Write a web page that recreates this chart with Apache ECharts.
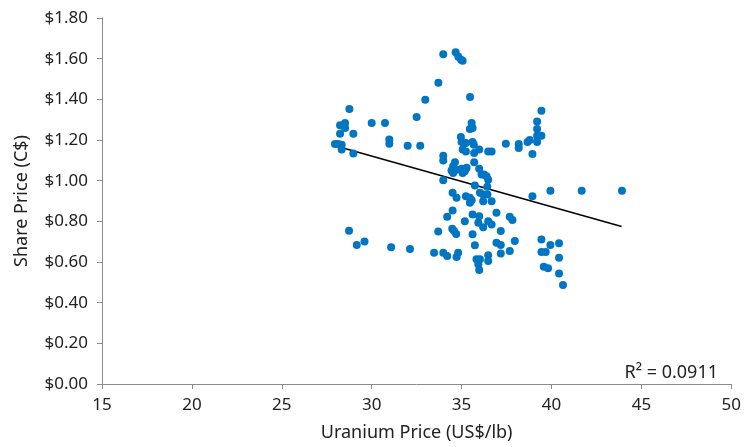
<!DOCTYPE html>
<html>
<head>
<meta charset="utf-8">
<script src="https://cdn.jsdelivr.net/npm/echarts@6/dist/echarts.min.js"></script>
<style>html,body{margin:0;padding:0;background:#fff}#c{width:744px;height:447px}</style>
</head>
<body>
<div id="c"></div>
<script>
// Uranium price (US$/lb) per observation
const uraniumPrice = [
  28.76,28.24,28.52,28.52,28.24,28.98,27.96,28.14,28.33,28.33,28.98,30.00,30.74,30.98,30.98,32.00,32.70,32.50,32.98,33.71,
  33.98,34.67,34.82,34.97,35.06,35.47,
  28.74,29.17,29.60,31.08,32.13,33.47,33.98,34.20,34.81,34.72,33.70,34.48,34.58,34.70,
  35.56,35.46,35.61,34.96,35.00,35.24,35.61,35.68,35.06,35.24,35.70,35.98,36.48,36.67,37.46,33.98,33.98,34.63,34.53,34.44,
  34.53,34.72,35.00,35.18,35.28,35.06,35.70,35.98,36.11,36.24,36.39,36.48,33.98,35.74,36.43,
  34.50,34.72,35.24,35.46,35.56,35.46,36.02,36.20,36.44,36.20,36.67,34.50,34.20,35.18,35.61,35.98,35.93,36.20,36.48,36.67,
  36.94,37.18,35.61,35.74,36.94,37.18,35.83,36.02,35.93,35.98,36.48,36.48,37.18,
  39.44,39.20,39.20,39.20,39.44,39.20,38.79,38.67,38.94,38.18,38.18,38.94,39.94,41.68,43.92,
  37.68,37.83,37.96,37.68,39.44,39.94,40.42,39.44,39.68,40.42,39.57,39.81,40.42,40.64
];
// Share price (C$) per observation
const sharePrice = [
  1.352,1.272,1.283,1.259,1.231,1.231,1.180,1.180,1.177,1.153,1.133,1.283,1.283,1.202,1.182,1.172,1.172,1.313,1.398,1.481,
  1.622,1.631,1.610,1.595,1.590,1.411,
  0.754,0.683,0.701,0.672,0.664,0.645,0.645,0.630,0.645,0.625,0.750,0.763,0.752,0.738,
  1.283,1.254,1.259,1.215,1.190,1.185,1.190,1.177,1.153,1.144,1.136,1.153,1.144,1.144,1.182,1.123,1.099,1.090,1.071,1.050,
  1.038,1.054,1.058,1.046,1.063,1.038,1.090,1.058,1.030,1.030,1.022,1.005,1.002,0.976,0.970,
  0.940,0.916,0.923,0.916,0.904,0.891,0.940,0.932,0.932,0.899,0.899,0.853,0.822,0.801,0.834,0.825,0.793,0.771,0.801,0.785,
  0.842,0.752,0.736,0.682,0.695,0.683,0.613,0.613,0.589,0.561,0.633,0.605,0.642,
  1.344,1.291,1.254,1.221,1.221,1.190,1.200,1.190,1.131,1.180,1.161,0.923,0.951,0.951,0.951,
  0.822,0.806,0.703,0.654,0.711,0.683,0.692,0.649,0.649,0.621,0.577,0.569,0.543,0.487
];
// Linear trend line end points
const trendX = [27.96, 43.90];
const trendY = [1.172, 0.775];
const rSquaredLabel = 'R² = 0.0911';
const xTitle = 'Uranium Price (US$/lb)';
const yTitle = 'Share Price (C$)';

const points = uraniumPrice.map((x, i) => [x, sharePrice[i]]);
const trend = trendX.map((x, i) => [x, trendY[i]]);
const FONT = 'Noto Sans';

const chart = echarts.init(document.getElementById('c'), null, {renderer: 'canvas'});
chart.setOption({
  animation: false,
  backgroundColor: '#fff',
  grid: {left: 102, right: 12, top: 18, bottom: 62, containLabel: false},
  xAxis: {
    type: 'value', min: 15, max: 50, interval: 5,
    name: xTitle, nameLocation: 'middle', nameGap: 40,
    nameTextStyle: {fontFamily: FONT, fontSize: 18, color: '#222'},
    axisLine: {show: true, lineStyle: {color: '#8c8c8c', width: 1}},
    axisTick: {show: true, length: 5, lineStyle: {color: '#8c8c8c'}},
    axisLabel: {fontFamily: FONT, fontSize: 17, color: '#222', margin: 13},
    splitLine: {show: false}
  },
  yAxis: {
    type: 'value', min: 0, max: 1.8, interval: 0.2,
    name: yTitle, nameLocation: 'middle', nameGap: 71,
    nameTextStyle: {fontFamily: FONT, fontSize: 18, color: '#222'},
    axisLine: {show: true, lineStyle: {color: '#8c8c8c', width: 1}},
    axisTick: {show: true, length: 5, lineStyle: {color: '#8c8c8c'}},
    axisLabel: {fontFamily: FONT, fontSize: 17, color: '#222', margin: 14,
      formatter: v => '$' + v.toFixed(2)},
    splitLine: {show: false}
  },
  graphic: [{
    type: 'text', right: 26, top: 364,
    style: {text: rSquaredLabel, fontFamily: FONT, fontSize: 18, fill: '#222'}
  }],
  series: [{
    type: 'scatter', data: points, symbolSize: 8,
    itemStyle: {color: '#0075C4', opacity: 1}
  }, {
    type: 'line', data: trend, symbol: 'none',
    lineStyle: {color: '#000', width: 1.5}, z: 1
  }]
});
</script>
</body>
</html>
